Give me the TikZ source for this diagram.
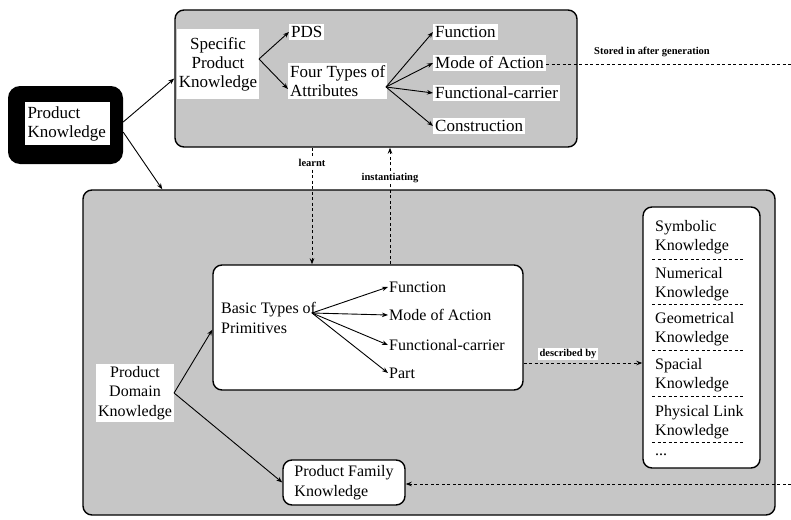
\documentclass[tikz,border=0pt]{standalone}
\usepackage{fontspec}
\setmainfont{Liberation Serif}
\usetikzlibrary{arrows.meta,calc}
\begin{document}
\begin{tikzpicture}[x=1pt,y=-1pt,
  every node/.style={inner sep=1pt},
  big/.style={font=\fontsize{17}{19}\selectfont},
  txt/.style={font=\fontsize{16}{19.5}\selectfont},
  small/.style={font=\fontsize{10.5}{12}\selectfont\bfseries, fill=white, inner sep=1.5pt},
  panel/.style={draw, line width=1.4pt, rounded corners=9pt, fill=gray!45},
  card/.style={draw, line width=1.4pt, rounded corners=9pt, fill=white},
  tag/.style={fill=white, inner sep=2pt},
  link/.style={line width=0.9pt, -{Stealth[length=6pt,width=4.5pt]}},
  ref/.style={line width=0.9pt, dash pattern=on 3pt off 2.5pt},
  reftip/.style={ref, -{Stealth[length=6pt,width=4.5pt]}},
]
\useasboundingbox (0,0) rectangle (791,519);

% ---- root: product knowledge ----
\node[fill=black, rounded corners=12pt, minimum width=115pt, minimum height=78pt] (pkframe) at (65.5,125) {};
\node[fill=white, minimum width=85pt, minimum height=43pt, align=left, text width=80pt, big] (pk) at (67.5,123.5) {Product\\Knowledge};

% ---- specific product knowledge panel ----
\node[panel, minimum width=402pt, minimum height=137pt] (top) at (376,78.5) {};
\node[big, tag, align=center, minimum width=80pt, minimum height=70pt] (spk) at (218,64) {Specific\\Product\\Knowledge};
\coordinate (fork1) at (259,59);
\node[big, tag, anchor=west] (pds) at (289,32) {PDS};
\node[big, tag, anchor=west, align=left] (four) at (288,81) {Four Types of\\Attributes};
\coordinate (fork2) at (386,87);
\node[big, tag, anchor=west] (tfun) at (433,32) {Function};
\node[big, tag, anchor=west] (tmod) at (433,63) {Mode of Action};
\node[big, tag, anchor=west] (tfc) at (433,93) {Functional-carrier};
\node[big, tag, anchor=west] (tcon) at (433,126) {Construction};

\draw[link] (fork1) -- (pds.west);
\draw[link] (fork1) -- ($(four.west)+(0,8)$);
\draw[link] (fork2) -- (tfun.west);
\draw[link] (fork2) -- (tmod.west);
\draw[link] (fork2) -- (tfc.west);
\draw[link] (fork2) -- (tcon.west);

\coordinate (storeEnd) at (791,64);
\draw[ref] (tmod.east |- storeEnd) -- (storeEnd);
\node[small] (store) at (652,52) {Stored in after generation};

% ---- product domain knowledge panel ----
\node[panel, minimum width=692pt, minimum height=325pt] (bot) at (429,352.5) {};

\draw[link] (pkframe.3) -- (top.west);
\draw[link] (pkframe.-7) -- ($(bot.north west)+(80,0)$);

\node[card, minimum width=310pt, minimum height=125pt] (basic) at (368,327.5) {};
\node[txt, anchor=west, align=left] (bt) at (220,318) {Basic Types of\\Primitives};
\coordinate (fork3) at (312,313);
\node[txt, anchor=west] (bfun) at (388,287) {Function};
\node[txt, anchor=west] (bmod) at (388,315) {Mode of Action};
\node[txt, anchor=west] (bfc) at (388,345) {Functional-carrier};
\node[txt, anchor=west] (bpart) at (388,373) {Part};
\draw[link] (fork3) -- (bfun.west);
\draw[link] (fork3) -- (bmod.west);
\draw[link] (fork3) -- (bfc.west);
\draw[link] (fork3) -- (bpart.west);

\node[txt, tag, align=center] (pdk) at (135,393) {Product\\Domain\\Knowledge};
\node[card, txt, minimum width=122pt, minimum height=45pt, align=left] (pfk) at (344,482.5) {Product Family\\Knowledge};
\draw[link] (pdk.east) -- ($(basic.south west)+(0,-61)$);
\draw[link] (pdk.east) -- (pfk.west);

% knowledge representation list
\node[card, minimum width=117pt, minimum height=261pt] (kb) at (701.5,337.5) {};
\node[txt, anchor=west, align=left] (ks) at (654,237) {Symbolic\\Knowledge};
\node[txt, anchor=west, align=left] (kn) at (654,284) {Numerical\\Knowledge};
\node[txt, anchor=west, align=left] (kg) at (654,329) {Geometrical\\Knowledge};
\node[txt, anchor=west, align=left] (kp) at (654,375) {Spacial\\Knowledge};
\node[txt, anchor=west, align=left] (kl) at (654,422) {Physical Link\\Knowledge};
\node[txt, anchor=west] (kd) at (654,455) {...};
\foreach \yy in {259,304,350,396,442}
  \draw[ref] (652,\yy) -- (745,\yy);

% ---- links between the panels ----
\coordinate (dbStart) at (523,363);
\draw[reftip] (basic.east |- dbStart) -- (kb.west |- dbStart);
\node[small] (db) at (568,354) {described by};

\coordinate (famEnd) at (791,484);
\draw[reftip] (famEnd) -- (pfk.east |- famEnd);

\path (top.south) ++(-64,0) coordinate (ls);
\path (top.south) ++(14,0) coordinate (is);
\draw[reftip] (ls) -- (ls |- basic.north);
\draw[reftip] (is |- basic.north) -- (is);
\node[small] (learnt) at (ls |- 0,163) {learnt};
\node[small] (inst) at (is |- 0,178) {instantiating};
\end{tikzpicture}
\end{document}
